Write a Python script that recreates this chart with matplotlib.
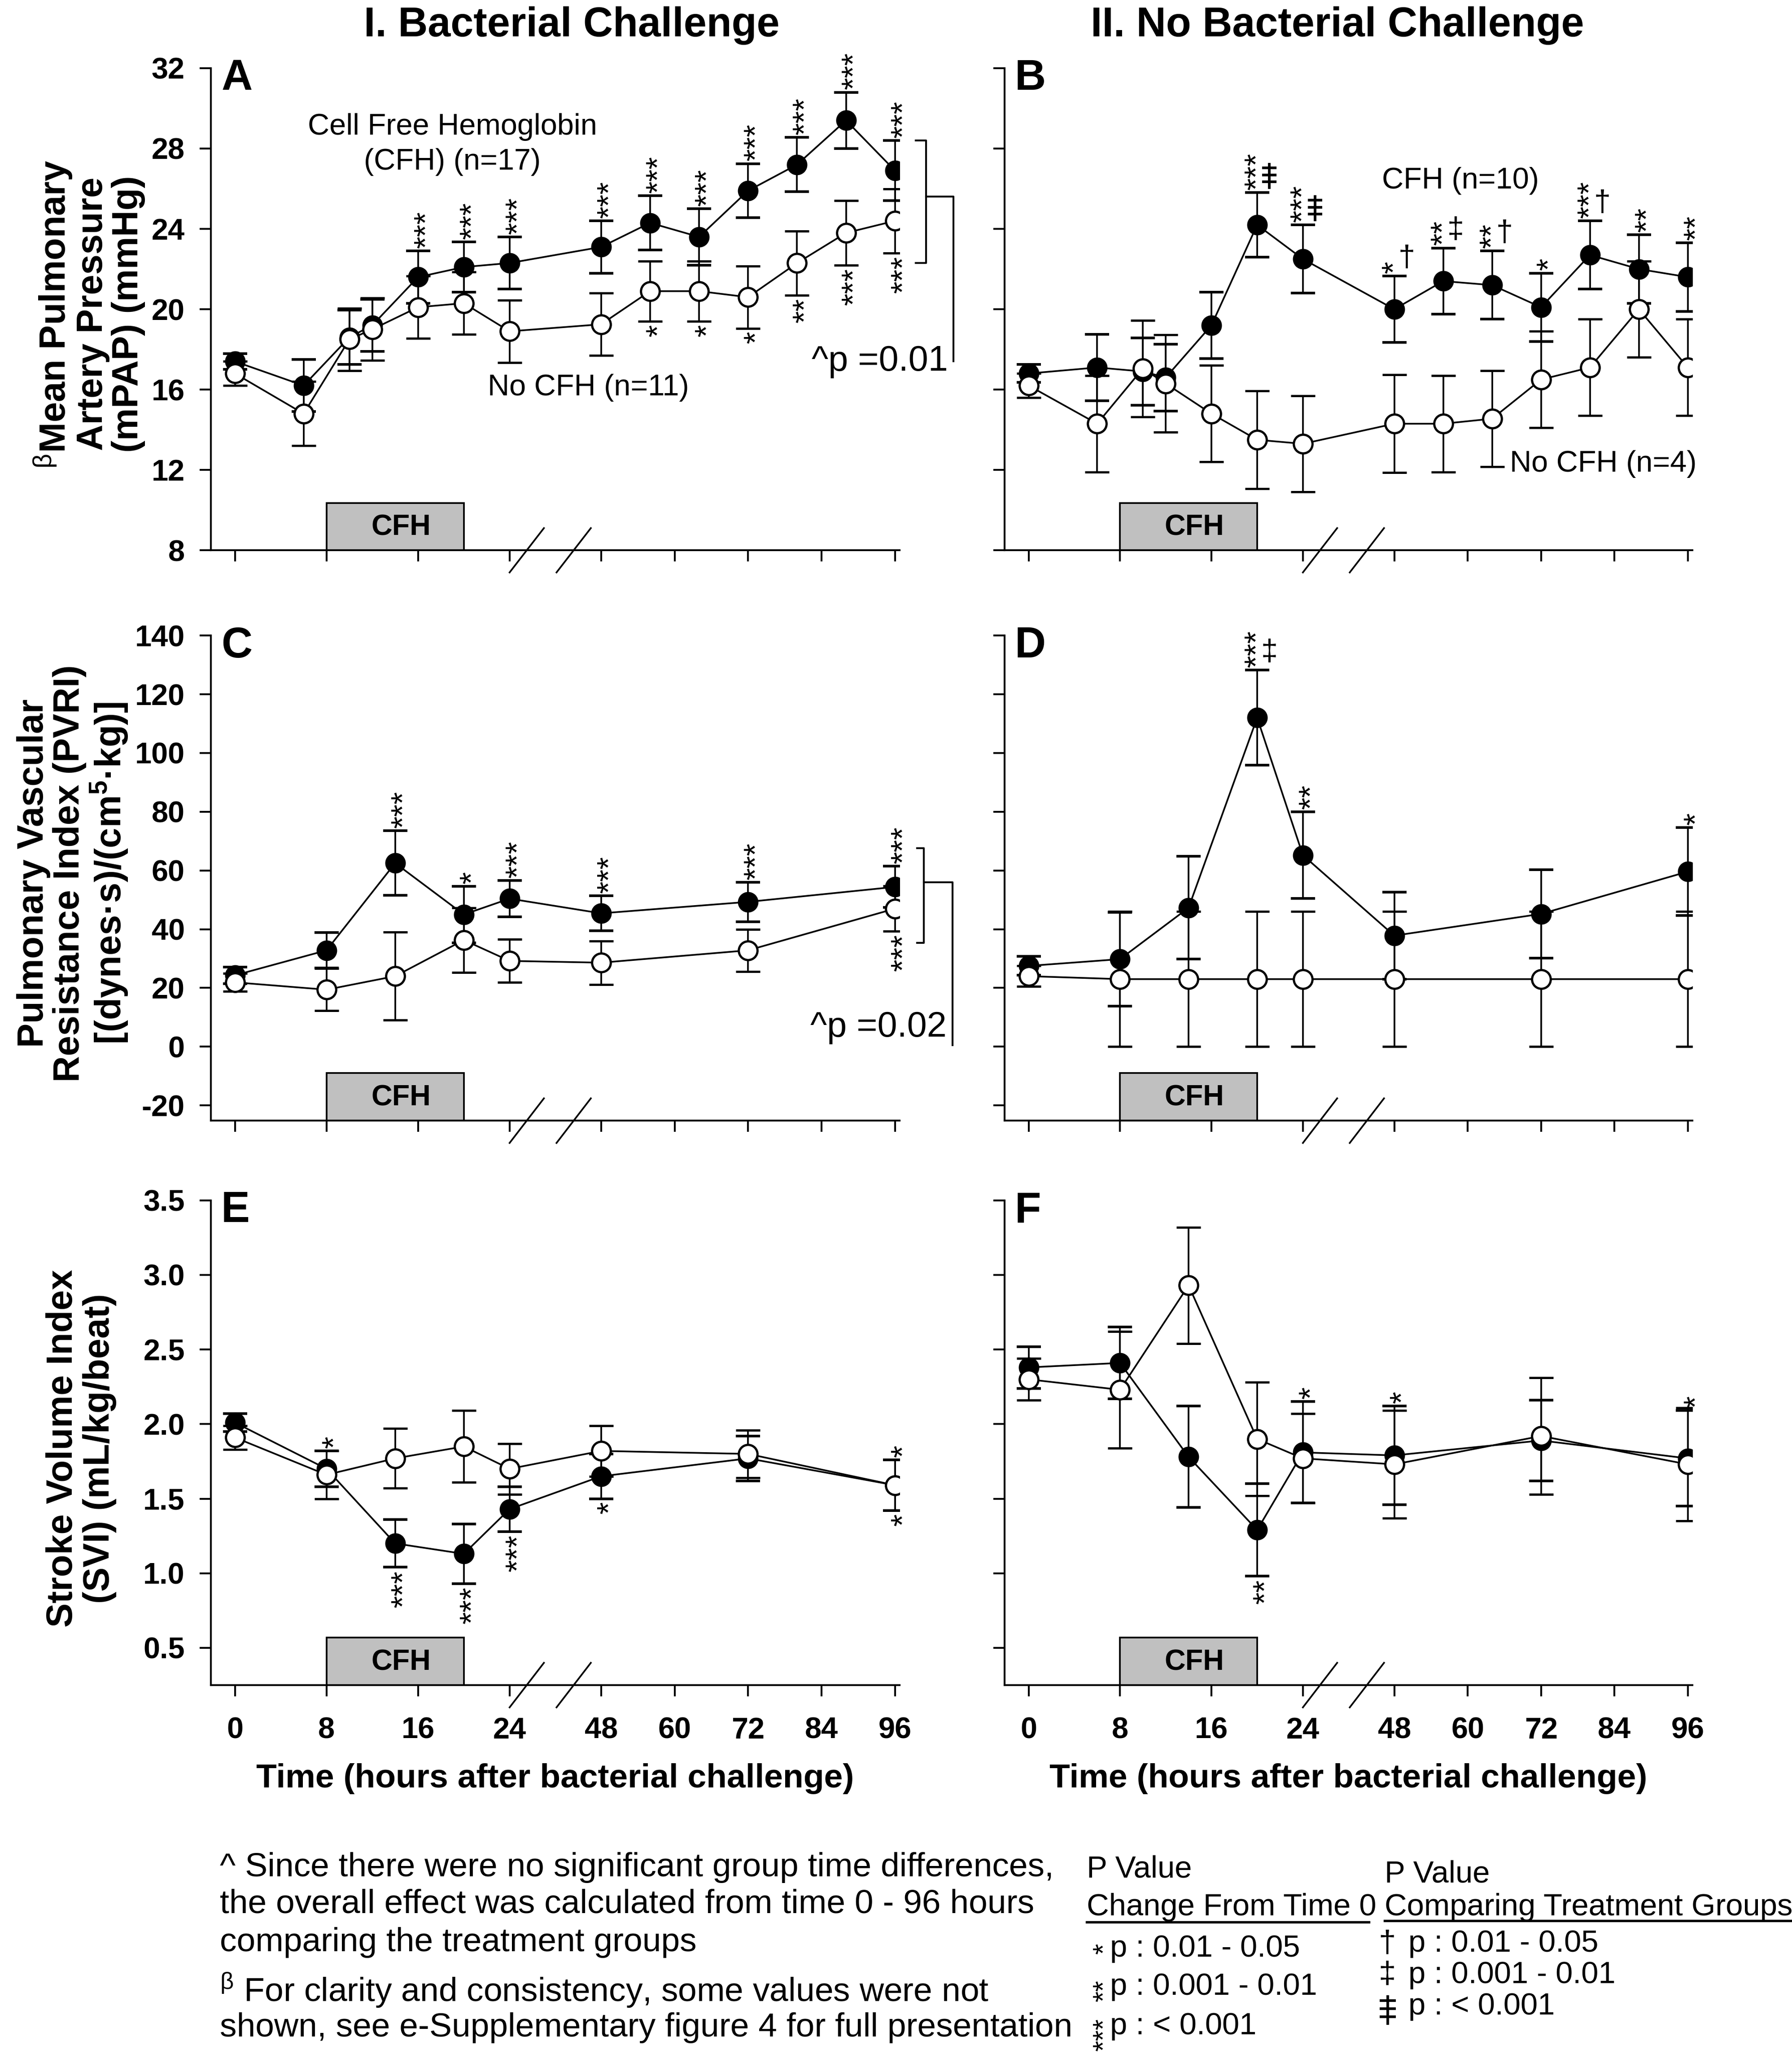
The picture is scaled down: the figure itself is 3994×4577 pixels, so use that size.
import numpy as np
import matplotlib
matplotlib.use("Agg")
import matplotlib.pyplot as plt
import matplotlib.transforms as mtransforms
from matplotlib.patches import Rectangle
from matplotlib.path import Path
from matplotlib.lines import Line2D
from matplotlib.ticker import FormatStrFormatter

plt.rcParams['font.family'] = ['Liberation Sans', 'DejaVu Sans']
plt.rcParams['mathtext.fontset'] = 'custom'
plt.rcParams['mathtext.rm'] = 'Liberation Sans'
plt.rcParams['mathtext.it'] = 'Liberation Sans:italic'
plt.rcParams['mathtext.bf'] = 'Liberation Sans:bold'
plt.rcParams['axes.unicode_minus'] = False

#hours after bacterial challenge
t_long = [0, 6, 10, 12, 16, 20, 24, 48, 56, 64, 72, 80, 88, 96]
t_short = [0, 8, 14, 20, 24, 48, 72, 96]
hour_ticks = [0, 8, 16, 24, 48, 60, 72, 84, 96]

#A - mPAP, bacterial challenge
mpap_cfh_bac = [17.4, 16.2, 18.6, 19.2, 21.6, 22.1, 22.3, 23.1, 24.3, 23.6, 25.9, 27.2, 29.4, 26.9]
mpap_cfh_bac_se = [0.4, 1.3, 1.35, 1.3, 1.3, 1.25, 1.3, 1.3, 1.35, 1.4, 1.35, 1.35, 1.4, 1.5]
mpap_no_bac = [16.8, 14.8, 18.5, 19.0, 20.1, 20.3, 18.9, 19.25, 20.9, 20.9, 20.6, 22.3, 23.8, 24.4]
mpap_no_bac_se = [0.6, 1.6, 1.55, 1.55, 1.55, 1.55, 1.55, 1.55, 1.5, 1.5, 1.55, 1.6, 1.6, 1.6]
mpap_cfh_bac_sig = [0, 0, 0, 0, 3, 3, 3, 3, 3, 3, 3, 3, 3, 3]
mpap_no_bac_sig = [0, 0, 0, 0, 0, 0, 0, 0, -1, -1, -1, -2, -3, -3]

#B - mPAP, no bacterial challenge
mpap_cfh_nobac = [16.8, 17.1, 16.9, 16.6, 19.2, 24.2, 22.5, 20.0, 21.4, 21.2, 20.1, 22.7, 22.0, 21.6]
mpap_cfh_nobac_se = [0.45, 1.65, 1.67, 1.67, 1.65, 1.6, 1.7, 1.65, 1.65, 1.7, 1.7, 1.7, 1.7, 1.7]
mpap_no_nobac = [16.2, 14.3, 17.05, 16.3, 14.8, 13.5, 13.3, 14.3, 14.3, 14.55, 16.5, 17.1, 20.0, 17.1]
mpap_no_nobac_se = [0.6, 2.4, 2.4, 2.43, 2.4, 2.43, 2.4, 2.43, 2.4, 2.4, 2.4, 2.4, 2.4, 2.4]
mpap_cfh_nobac_sig = [0, 0, 0, 0, 0, 3, 3, 1, 2, 2, 1, 3, 2, 2]
mpap_cfh_nobac_dag = [0, 0, 0, 0, 0, 3, 3, 1, 2, 1, 0, 1, 0, 0]

#C - PVRI, bacterial challenge
pvri_cfh_bac = [24.3, 32.8, 62.5, 45.0, 50.4, 45.4, 49.3, 54.4]
pvri_cfh_bac_se = [2.8, 6.0, 11.0, 9.6, 6.2, 6.0, 6.7, 7.0]
pvri_no_bac = [21.9, 19.4, 24.0, 36.3, 29.2, 28.6, 32.8, 47.0]
pvri_no_bac_se = [3.0, 7.2, 15.0, 11.0, 7.3, 7.4, 7.2, 7.7]
pvri_cfh_bac_sig = [0, 0, 3, 1, 3, 3, 3, 3]
pvri_no_bac_sig = [0, 0, 0, 0, 0, 0, 0, -3]

#D - PVRI, no bacterial challenge
pvri_cfh_nobac = [27.5, 29.8, 47.3, 112.0, 65.2, 37.8, 45.2, 59.6]
pvri_cfh_nobac_se = [3.2, 16.0, 17.5, 16.2, 14.8, 14.8, 15.0, 15.0]
pvri_no_nobac = [24.0, 23.0, 23.0, 23.0, 23.0, 23.0, 23.0, 23.0]
pvri_no_nobac_se = [3.5, 23.0, 23.0, 23.0, 23.0, 23.0, 23.0, 23.0]
pvri_cfh_nobac_sig = [0, 0, 0, 3, 2, 0, 0, 1]
pvri_cfh_nobac_dag = [0, 0, 0, 2, 0, 0, 0, 0]

#E - SVI, bacterial challenge
svi_cfh_bac = [2.01, 1.70, 1.20, 1.13, 1.43, 1.65, 1.77, 1.59]
svi_cfh_bac_se = [0.06, 0.12, 0.16, 0.20, 0.15, 0.15, 0.15, 0.17]
svi_no_bac = [1.91, 1.66, 1.77, 1.85, 1.70, 1.82, 1.80, 1.59]
svi_no_bac_se = [0.08, 0.16, 0.20, 0.24, 0.17, 0.17, 0.16, 0.17]
svi_cfh_bac_sig = [0, 1, -3, -3, -3, -1, 0, -1]
svi_no_bac_sig = [0, 0, 0, 0, 0, 0, 0, 1]

#F - SVI, no bacterial challenge
svi_cfh_nobac = [2.38, 2.41, 1.78, 1.29, 1.81, 1.79, 1.89, 1.77]
svi_cfh_nobac_se = [0.14, 0.24, 0.34, 0.31, 0.34, 0.33, 0.27, 0.32]
svi_no_nobac = [2.30, 2.23, 2.93, 1.90, 1.77, 1.73, 1.92, 1.73]
svi_no_nobac_se = [0.14, 0.39, 0.39, 0.38, 0.30, 0.36, 0.39, 0.38]
svi_cfh_nobac_sig = [0, 0, 0, -2, 1, 1, 0, 1]

W, H = 3994, 4577
fig = plt.figure(figsize=(W / 300, H / 300), dpi=300)

#triple dagger (p < 0.001) drawn as a marker
TRIPLE = Path([(0, -1), (0, 1), (-0.55, 0.62), (0.55, 0.62), (-0.55, 0.08), (0.55, 0.08),
               (-0.55, -0.46), (0.55, -0.46)],
              [Path.MOVETO, Path.LINETO] * 4)

LW = 0.9


def tpos(t):
    #broken time axis: 0-24 h linear, then 48-96 h compressed
    t = np.asarray(t, dtype=float)
    return np.where(t <= 24, t, 32 + (t - 48) * 0.535)


def add_stars(ax, t, val, se, sig, dag=None):
    if dag is None:
        dag = [0] * len(t)
    for ti, v, e, n, d in zip(t, val, se, sig, dag):
        if n == 0:
            continue
        dx = 5 - (4.5 if d else 0)
        if n > 0:
            ax.annotate('*' * n, (float(tpos(ti)), v + e), xytext=(dx, 1.5), textcoords='offset points',
                        rotation=90, ha='center', va='bottom', fontsize=17, annotation_clip=False)
        else:
            ax.annotate('*' * -n, (float(tpos(ti)), v - e), xytext=(dx, -1.5), textcoords='offset points',
                        rotation=90, ha='center', va='top', fontsize=17, annotation_clip=False)


def add_daggers(ax, t, val, se, dag):
    for ti, v, e, n in zip(t, val, se, dag):
        if n == 0:
            continue
        x, y = float(tpos(ti)), v + e
        if n < 3:
            ax.annotate('†' if n == 1 else '‡', (x, y), xytext=(6.5, 2), textcoords='offset points',
                        ha='center', va='bottom', fontsize=16, annotation_clip=False)
        else:
            tr = mtransforms.offset_copy(ax.transData, fig=fig, x=6.5, y=9, units='points')
            ax.plot([x], [y], marker=TRIPLE, ms=14, mew=1.4, color='black', transform=tr, clip_on=False)


def draw_panel(rect, t, cfh, cfh_se, no, no_se, ylim, yticks, letter, left_labels, bottom_labels):
    ax = fig.add_axes(rect)
    x = tpos(t)
    ax.errorbar(x, cfh, yerr=cfh_se, fmt='-o', color='black', mfc='black', mec='black', ms=10,
                lw=LW, elinewidth=LW, capsize=6.5, capthick=1.4, zorder=3)
    ax.errorbar(x, no, yerr=no_se, fmt='-o', color='black', mfc='white', mec='black', ms=10, mew=1.2,
                lw=LW, elinewidth=LW, capsize=6.5, capthick=1.4, zorder=4)
    ax.set_xlim(-2.1, float(tpos(96)) + 0.4)
    ax.set_ylim(*ylim)
    ax.set_yticks(yticks)
    ax.set_xticks(tpos(hour_ticks))
    ax.set_xticklabels([str(h) for h in hour_ticks])
    for s in ['top', 'right']:
        ax.spines[s].set_visible(False)
    for s in ['left', 'bottom']:
        ax.spines[s].set_linewidth(1.0)
    ax.tick_params(axis='x', direction='out', length=6, width=1.0, pad=11, labelsize=16,
                   labelbottom=bottom_labels)
    ax.tick_params(axis='y', direction='out', length=6, width=1.0, pad=8, labelsize=16,
                   labelleft=left_labels)
    plt.setp(ax.get_xticklabels() + ax.get_yticklabels(), fontweight='bold')

    #axis break marks
    trans = mtransforms.blended_transform_factory(ax.transData, ax.transAxes)
    for xb in (25.5, 29.6):
        ax.plot([xb - 1.5, xb + 1.5], [-0.046, 0.046], transform=trans, color='black', lw=LW, clip_on=False)

    #CFH infusion period
    ax.add_patch(Rectangle((float(tpos(8)), 0), float(tpos(20) - tpos(8)), 0.098, transform=trans,
                           facecolor='#c0c0c0', edgecolor='black', lw=LW, zorder=2))
    ax.text(14.5, 0.047, 'CFH', transform=trans, ha='center', va='center', fontsize=15.5, fontweight='bold')

    ax.text(0.015, 1.02, letter, transform=ax.transAxes, ha='left', va='top', fontsize=23, fontweight='bold')
    if bottom_labels:
        ax.set_xlabel('Time (hours after bacterial challenge)', fontsize=18, fontweight='bold', labelpad=10)
    return ax


axw_l, axw_r = 0.3843, 0.3838
x_l, x_r = 0.1177, 0.5606
row_y = [0.7321, 0.4544, 0.1796]
row_h = [0.2347, 0.2362, 0.236]
ylab_fs = 19.5

#row 1: mPAP
axA = draw_panel([x_l, row_y[0], axw_l, row_h[0]], t_long, mpap_cfh_bac, mpap_cfh_bac_se,
                 mpap_no_bac, mpap_no_bac_se, (8, 32), [8, 12, 16, 20, 24, 28, 32], 'A', True, False)
axB = draw_panel([x_r, row_y[0], axw_r, row_h[0]], t_long, mpap_cfh_nobac, mpap_cfh_nobac_se,
                 mpap_no_nobac, mpap_no_nobac_se, (8, 32), [8, 12, 16, 20, 24, 28, 32], 'B', False, False)
add_stars(axA, t_long, mpap_cfh_bac, mpap_cfh_bac_se, mpap_cfh_bac_sig)
add_stars(axA, t_long, mpap_no_bac, mpap_no_bac_se, mpap_no_bac_sig)
add_stars(axB, t_long, mpap_cfh_nobac, mpap_cfh_nobac_se, mpap_cfh_nobac_sig, mpap_cfh_nobac_dag)
add_daggers(axB, t_long, mpap_cfh_nobac, mpap_cfh_nobac_se, mpap_cfh_nobac_dag)
axA.set_ylabel('$^{\\mathrm{β}}$Mean Pulmonary\nArtery Pressure\n(mPAP) (mmHg)', fontsize=ylab_fs,
               fontweight='bold', linespacing=1.06)
axA.yaxis.set_label_coords(-0.095, 0.49)

axA.text(19.0, 28.2, 'Cell Free Hemoglobin\n(CFH) (n=17)', ha='center', va='center', fontsize=16,
         linespacing=1.35)
axA.text(30.9, 16.1, 'No CFH (n=11)', ha='center', va='center', fontsize=16)
axB.text(37.8, 26.4, 'CFH (n=10)', ha='center', va='center', fontsize=16)
axB.text(42.1, 12.3, 'No CFH (n=4)', ha='left', va='center', fontsize=16)

#overall group comparison bracket, panel A
axA.plot([59.5, 60.4, 60.4, 59.5], [28.4, 28.4, 22.3, 22.3], color='black', lw=1.0, clip_on=False)
axA.plot([60.4, 62.8, 62.8], [25.6, 25.6, 17.4], color='black', lw=1.0, clip_on=False)
axA.text(62.3, 17.4, '^p =0.01', ha='right', va='center', fontsize=19)

#row 2: PVRI
axC = draw_panel([x_l, row_y[1], axw_l, row_h[1]], t_short, pvri_cfh_bac, pvri_cfh_bac_se,
                 pvri_no_bac, pvri_no_bac_se, (-25.2, 140), list(range(-20, 141, 20)), 'C', True, False)
axD = draw_panel([x_r, row_y[1], axw_r, row_h[1]], t_short, pvri_cfh_nobac, pvri_cfh_nobac_se,
                 pvri_no_nobac, pvri_no_nobac_se, (-25.2, 140), list(range(-20, 141, 20)), 'D', False, False)
add_stars(axC, t_short, pvri_cfh_bac, pvri_cfh_bac_se, pvri_cfh_bac_sig)
add_stars(axC, t_short, pvri_no_bac, pvri_no_bac_se, pvri_no_bac_sig)
add_stars(axD, t_short, pvri_cfh_nobac, pvri_cfh_nobac_se, pvri_cfh_nobac_sig, pvri_cfh_nobac_dag)
add_daggers(axD, t_short, pvri_cfh_nobac, pvri_cfh_nobac_se, pvri_cfh_nobac_dag)
axC.set_ylabel('Pulmonary Vascular\nResistance Index (PVRI)\n[(dynes·s)/(cm$^{\\mathbf{5}}$·kg)]',
               fontsize=ylab_fs, fontweight='bold', linespacing=1.06)
axC.yaxis.set_label_coords(-0.118, 0.51)

axC.plot([59.6, 60.2, 60.2, 59.6], [67.6, 67.6, 35.3, 35.3], color='black', lw=1.0, clip_on=False)
axC.plot([60.2, 62.7, 62.7], [56.0, 56.0, 0.5], color='black', lw=1.0, clip_on=False)
axC.text(62.2, 6.6, '^p =0.02', ha='right', va='center', fontsize=19)

#row 3: SVI
axE = draw_panel([x_l, row_y[2], axw_l, row_h[2]], t_short, svi_cfh_bac, svi_cfh_bac_se,
                 svi_no_bac, svi_no_bac_se, (0.25, 3.5), [0.5, 1.0, 1.5, 2.0, 2.5, 3.0, 3.5], 'E', True, True)
axF = draw_panel([x_r, row_y[2], axw_r, row_h[2]], t_short, svi_cfh_nobac, svi_cfh_nobac_se,
                 svi_no_nobac, svi_no_nobac_se, (0.25, 3.5), [0.5, 1.0, 1.5, 2.0, 2.5, 3.0, 3.5], 'F', False, True)
axE.yaxis.set_major_formatter(FormatStrFormatter('%.1f'))
plt.setp(axE.get_yticklabels(), fontweight='bold')
add_stars(axE, t_short, svi_cfh_bac, svi_cfh_bac_se, svi_cfh_bac_sig)
add_stars(axE, t_short, svi_no_bac, svi_no_bac_se, svi_no_bac_sig)
add_stars(axF, t_short, svi_cfh_nobac, svi_cfh_nobac_se, svi_cfh_nobac_sig)
axE.set_ylabel('Stroke Volume Index\n(SVI) (mL/kg/beat)', fontsize=ylab_fs, fontweight='bold',
               linespacing=1.1)
axE.yaxis.set_label_coords(-0.137, 0.488)

#column titles
fig.text(0.319, 0.9875, 'I. Bacterial Challenge', ha='center', va='center', fontsize=22, fontweight='bold')
fig.text(0.7464, 0.9875, 'II. No Bacterial Challenge', ha='center', va='center', fontsize=22,
         fontweight='bold')

#footnotes
fs_note = 18
fig.text(0.1227, 0.0907, '^ Since there were no significant group time differences,', fontsize=fs_note,
         va='center')
fig.text(0.1227, 0.0730, 'the overall effect was calculated from time 0 - 96 hours', fontsize=fs_note,
         va='center')
fig.text(0.1227, 0.0544, 'comparing the treatment groups', fontsize=fs_note, va='center')
fig.text(0.1227, 0.0310, '$^{\\mathrm{β}}$ For clarity and consistency, some values were not',
         fontsize=fs_note, va='center')
fig.text(0.1227, 0.0127, 'shown, see e-Supplementary figure 4 for full presentation', fontsize=fs_note,
         va='center')

#p value key, change from time 0
fs = 16.5
fig.text(0.6064, 0.0898, 'P Value', fontsize=fs, va='center')
fig.text(0.6064, 0.0714, 'Change From Time 0', fontsize=fs, va='center')
fig.add_artist(Line2D([0.6064, 0.7640], [0.0642, 0.0642], transform=fig.transFigure, color='black', lw=1.3))
for n, label, y in zip([1, 2, 3], ['p : 0.01 - 0.05', 'p : 0.001 - 0.01', 'p : < 0.001'],
                       [0.0513, 0.0328, 0.0135]):
    fig.text(0.6165, y - 0.002 * (n - 1), '*' * n, rotation=90, ha='center', va='center', fontsize=15)
    fig.text(0.6194, y, label, fontsize=fs, va='center')

#p value key, comparing treatment groups
fig.text(0.7727, 0.0874, 'P Value', fontsize=fs, va='center')
fig.text(0.7727, 0.0714, 'Comparing Treatment Groups', fontsize=fs, va='center')
fig.add_artist(Line2D([0.7727, 1.0], [0.0649, 0.0649], transform=fig.transFigure, color='black', lw=1.3))
fig.text(0.7740, 0.0537, '†', fontsize=fs, va='center', ha='center')
fig.text(0.786, 0.0537, 'p : 0.01 - 0.05', fontsize=fs, va='center')
fig.text(0.7740, 0.0385, '‡', fontsize=fs, va='center', ha='center')
fig.text(0.786, 0.0385, 'p : 0.001 - 0.01', fontsize=fs, va='center')
fig.add_artist(Line2D([0.7745], [0.0215], marker=TRIPLE, ms=16, mew=1.4, color='black',
                      transform=fig.transFigure))
fig.text(0.786, 0.0232, 'p : < 0.001', fontsize=fs, va='center')

fig.savefig('out.png', dpi=300)
